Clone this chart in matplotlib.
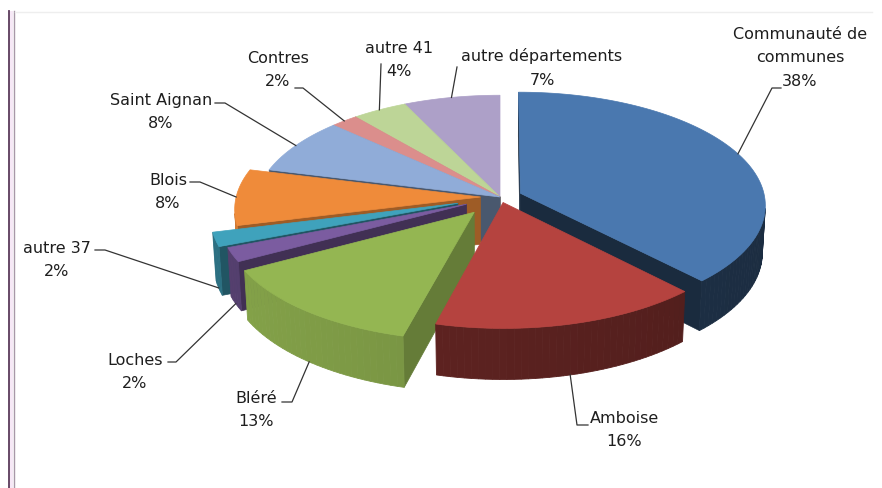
import numpy as np
import matplotlib
matplotlib.use("Agg")
import matplotlib.pyplot as plt
from matplotlib.patches import Polygon, Rectangle
from matplotlib.colors import to_rgb

# data
labels = ["Communauté de\ncommunes", "Amboise", "Bléré", "Loches", "autre 37",
          "Blois", "Saint Aignan", "Contres", "autre 41", "autre départements"]
values = [38, 16, 13, 2, 2, 8, 8, 2, 4, 7]

# style
colors = ['#4A78AF', '#B5433F', '#94B652', '#7B5CA0', '#3FA2BC',
          '#EF8B3A', '#90ACD8', '#DB8E8C', '#BDD597', '#ADA0C8']
side_shade = [0.42, 0.5, 0.8, 0.62, 0.62, 0.78, 0.6, 0.6, 0.65, 0.6]
explode = [0.09, 0.05, 0.17, 0.15, 0.18, 0.08, 0, 0, 0, 0]

# label layout: text centre, leader start points, anchor depth fraction
label_pos = [(800, 58), (624, 430), (256, 410), (135, 372), (57, 260),
             (168, 192), (161, 112), (278, 70), (399, 60), (542, 68)]
leader_knee = [[(781, 88), (772, 88)], [(588, 425), (577, 425)],
               [(282, 402), (292, 402)], [(168, 362), (176, 362)],
               [(95, 250), (105, 250)], [(190, 182), (200, 182)],
               [(215, 103), (225, 103)], [(295, 88), (303, 88)],
               [(381, 64)], [(457, 67)]]
anchor_depth = [0, 1, 1, 1, 1, 0, 0, 0, 0, 0]

# camera
CX, CY = 500, 197
ELEV = np.radians(27.3)
DIST = 8.8
FOCAL = 2150
T = 0.22
cam = np.array([0, -DIST * np.cos(ELEV), DIST * np.sin(ELEV)])


def project(x, y, z):
    ys = y * np.sin(ELEV) + z * np.cos(ELEV)
    zd = DIST + y * np.cos(ELEV) - z * np.sin(ELEV)
    return CX + FOCAL * x / zd, CY - FOCAL * ys / zd


def facing(n, pts):
    mid = np.mean(np.array(pts), axis=0)
    return np.dot(n, cam - mid) > 0


def shaded(c, f):
    r, g, b = to_rgb(c)
    return (min(r * f, 1), min(g * f, 1), min(b * f, 1))


def draw_slice(ax, a0, a1, off, color, shade):
    ox, oy = off
    nseg = max(int((a1 - a0) / np.radians(1.5)), 2)
    th = np.linspace(a0, a1, nseg + 1)
    # radial faces
    for ang, n in [(a0, (-np.cos(a0), np.sin(a0), 0)), (a1, (np.cos(a1), -np.sin(a1), 0))]:
        px, py = ox + np.sin(ang), oy + np.cos(ang)
        pts = [(ox, oy, 0), (px, py, 0), (px, py, -T), (ox, oy, -T)]
        if facing(np.array(n), pts):
            c = shaded(color, shade * 0.85)
            ax.add_patch(Polygon([project(*p) for p in pts], closed=True,
                                 facecolor=c, edgecolor=c, lw=0.5))
    # outer side
    for i in range(nseg):
        t0, t1 = th[i], th[i + 1]
        tm = 0.5 * (t0 + t1)
        n = np.array([np.sin(tm), np.cos(tm), 0])
        pts = [(ox + np.sin(t0), oy + np.cos(t0), 0), (ox + np.sin(t1), oy + np.cos(t1), 0),
               (ox + np.sin(t1), oy + np.cos(t1), -T), (ox + np.sin(t0), oy + np.cos(t0), -T)]
        if facing(n, pts):
            c = shaded(color, shade * (1 + 0.12 * (-np.sin(tm))))
            ax.add_patch(Polygon([project(*p) for p in pts], closed=True,
                                 facecolor=c, edgecolor=c, lw=0.6))
    # top
    top = [project(ox, oy, 0)] + [project(ox + np.sin(t), oy + np.cos(t), 0) for t in th]
    ax.add_patch(Polygon(top, closed=True, facecolor=color, edgecolor=color, lw=0.5))


fig = plt.figure(figsize=(8.82, 4.88), dpi=100)
ax = fig.add_axes([0, 0, 1, 1])
ax.set_xlim(0, 882)
ax.set_ylim(488, 0)
ax.axis('off')

# frame on the left / top
ax.add_patch(Rectangle((9, 11), 4, 477, facecolor='#f6e8f6', edgecolor='none'))
ax.plot([8.5, 8.5], [11, 488], color='#5b3b5b', lw=1.3)
ax.plot([14, 14], [11, 488], color='#a898a8', lw=1)
ax.plot([15, 872], [11.5, 11.5], color='#eeeeee', lw=1)

total = float(sum(values))
starts = np.cumsum([0] + values[:-1]) / total * 2 * np.pi
ends = np.cumsum(values) / total * 2 * np.pi

slices = []
for i in range(len(values)):
    mid = 0.5 * (starts[i] + ends[i])
    off = (explode[i] * np.sin(mid), explode[i] * np.cos(mid))
    depth = DIST + (off[1] + 0.6 * np.cos(mid)) * np.cos(ELEV)
    slices.append((depth, i, off))

for depth, i, off in sorted(slices, reverse=True):
    draw_slice(ax, starts[i], ends[i], off, colors[i], side_shade[i])

# labels and leader lines
for i in range(len(values)):
    mid = 0.5 * (starts[i] + ends[i])
    r = 1 + explode[i]
    anchor = project(r * np.sin(mid), r * np.cos(mid), -T * anchor_depth[i])
    pts = leader_knee[i] + [anchor]
    ax.plot([p[0] for p in pts], [p[1] for p in pts], color='#333333', lw=0.9)
    ax.text(label_pos[i][0], label_pos[i][1], "{}\n{}%".format(labels[i], values[i]),
            ha='center', va='center', fontsize=11.5, linespacing=1.7,
            color='#1e1e1e', family='DejaVu Sans')

fig.savefig("out.png", dpi=100)
